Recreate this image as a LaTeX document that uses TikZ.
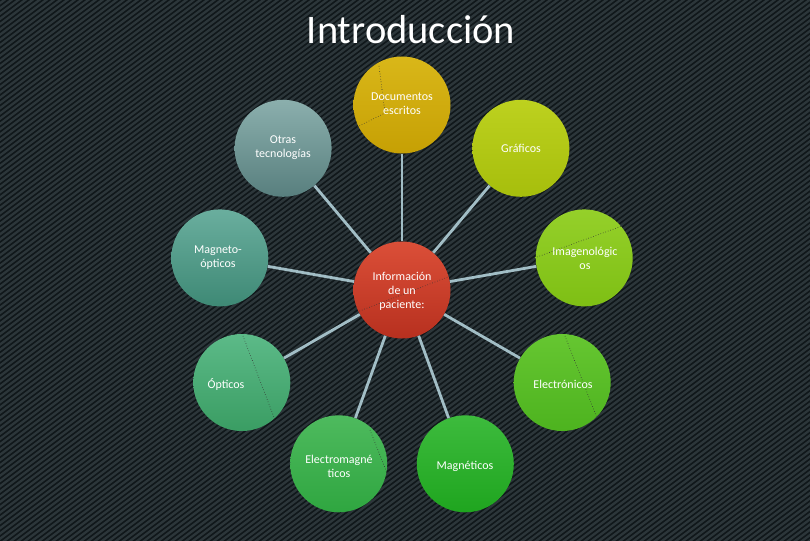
\documentclass[tikz,border=0pt]{standalone}
\usepackage{fontspec}
\setmainfont{Carlito}
\begin{document}
\begin{tikzpicture}[x=1pt,y=-1pt]
\definecolor{bgdark}{HTML}{10171A}
\definecolor{bgstripe}{HTML}{2C363A}
\definecolor{spoke}{HTML}{A2BEC6}
\definecolor{cT}{HTML}{DB4F38}\definecolor{cB}{HTML}{B7301F}
\definecolor{aT}{HTML}{D9B719}\definecolor{aB}{HTML}{C6A004}
\definecolor{bT}{HTML}{BDD11F}\definecolor{bB}{HTML}{A6BE0C}
\definecolor{dT}{HTML}{95D02A}\definecolor{dB}{HTML}{7EBF14}
\definecolor{eT}{HTML}{66C631}\definecolor{eB}{HTML}{4DB31F}
\definecolor{fT}{HTML}{3DBB3D}\definecolor{fB}{HTML}{1FA51F}
\definecolor{gT}{HTML}{4EBA5E}\definecolor{gB}{HTML}{2FA640}
\definecolor{hT}{HTML}{5CBA88}\definecolor{hB}{HTML}{3A9D63}
\definecolor{iT}{HTML}{6AAE9E}\definecolor{iB}{HTML}{3E8975}
\definecolor{jT}{HTML}{8BAFAD}\definecolor{jB}{HTML}{587F7E}
\tikzset{
  stripe/.style={draw=bgstripe, line width=2.3pt},
  bubble/.style={circle, minimum size=97pt, inner sep=0pt},
  spokeline/.style={draw=spoke, line width=2.8pt},
  dotline/.style={draw=black!80, dotted, line width=0.6pt},
  label/.style={text=white, align=center, font=\fontsize{12}{14}\selectfont},
  titletext/.style={text=white, font=\fontsize{40.5}{44}\selectfont, inner sep=0pt}
}
\useasboundingbox (0,0) rectangle (810,540);
\fill[bgdark] (-6,-6) rectangle (816,546);
\begin{scope}
  \clip (-6,-6) rectangle (816,546);
  \foreach \x in {-750,-743,...,830} {
    \draw[stripe] (\x,550) -- ({\x+736},-2);
  }
\end{scope}

\node[titletext] (title) at (411,30) {Introducción};

\node[bubble, top color=cT, bottom color=cB] (c) at (402,290) {};
\node[bubble, top color=aT, bottom color=aB] (s1) at (402,105) {};
\node[bubble, top color=bT, bottom color=bB] (s2) at (520.9,148.3) {};
\node[bubble, top color=dT, bottom color=dB] (s3) at (584.2,257.9) {};
\node[bubble, top color=eT, bottom color=eB] (s4) at (562.2,382.5) {};
\node[bubble, top color=fT, bottom color=fB] (s5) at (465.3,463.8) {};
\node[bubble, top color=gT, bottom color=gB] (s6) at (338.7,463.8) {};
\node[bubble, top color=hT, bottom color=hB] (s7) at (241.8,382.5) {};
\node[bubble, top color=iT, bottom color=iB] (s8) at (219.8,257.9) {};
\node[bubble, top color=jT, bottom color=jB] (s9) at (283.1,148.3) {};

\foreach \s in {s1,s2,s3,s4,s5,s6,s7,s8,s9} {
  \draw[spokeline] (c) -- (\s);
}

% faint dotted artefacts inside circles
\draw[dotline] (379,66) -- (385,113) -- (357,127);
\draw[dotline] (357,312) -- (448,277);
\draw[dotline] (537,257) -- (622,226);
\draw[dotline] (565,336) -- (597,418);
\draw[dotline] (243,336) -- (275,420);
\draw[dotline] (370,430) -- (387,473);

\node[label] (t0) at (402,291) {Información\\de un\\paciente:};
\node[label] (t1) at (402,104) {Documentos\\escritos};
\node[label] (t2) at (521,148) {Gráficos};
\node[label] (t3) at (585,258) {Imagenológic\\os};
\node[label] (t4) at (563,384) {Electrónicos};
\node[label] (t5) at (465,466) {Magnéticos};
\node[label] (t6) at (339,466) {Electromagné\\ticos};
\node[label] (t7) at (226,384) {Ópticos};
\node[label] (t8) at (218,258) {Magneto-\\ópticos};
\node[label] (t9) at (283,148) {Otras\\tecnologías};
\end{tikzpicture}
\end{document}
